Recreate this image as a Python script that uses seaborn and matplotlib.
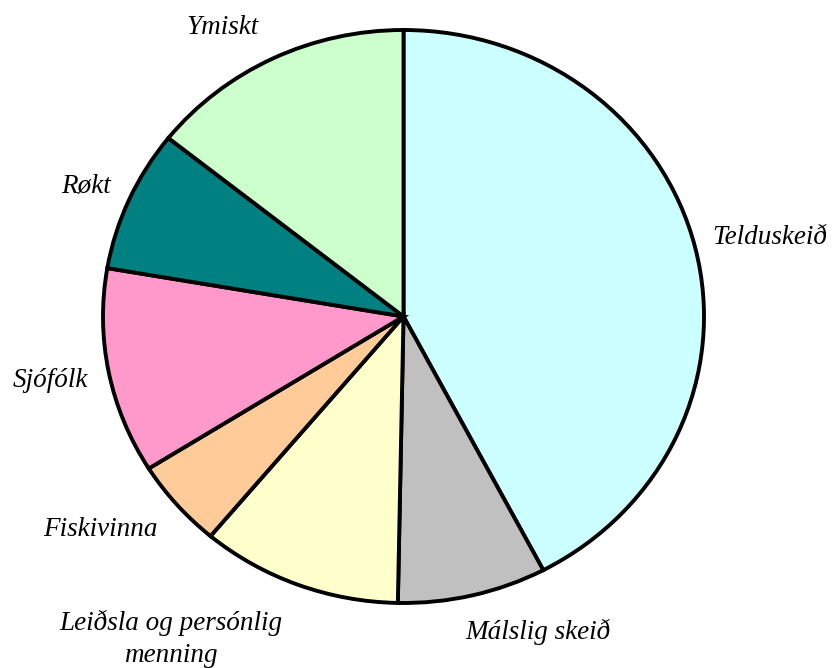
import matplotlib
matplotlib.use("Agg")
import matplotlib.pyplot as plt
import seaborn as sns

sns.set_theme(style="white")
plt.rcParams['font.family'] = ['Liberation Serif', 'DejaVu Serif']

categories = ["Telduskeið", "Málslig skeið", "Leiðsla og persónlig\nmenning",
              "Fiskivinna", "Sjófólk", "Røkt", "Ymiskt"]
values = [42.3, 8.0, 10.8, 5.0, 11.6, 8.0, 14.3]
colors = ["#CCFFFF", "#C0C0C0", "#FFFFCC", "#FFCC99", "#FF99CC", "#008080", "#CCFFCC"]

# label centres in axes-normalised pie coordinates
label_pos = [(1.218, 0.274), (0.449, -1.101), (-0.774, -1.125), (-1.008, -0.745),
             (-1.175, -0.225), (-1.058, 0.455), (-0.602, 1.010)]

W, H = 836, 668
fig = plt.figure(figsize=(W / 100, H / 100), dpi=100)
fig.patch.set_facecolor("white")
left, right, top, bottom = 103, 704, 30, 603
ax = fig.add_axes([left / W, (H - bottom) / H, (right - left) / W, (bottom - top) / H])

wedges, texts = ax.pie(values, labels=categories, colors=colors, startangle=90,
                       counterclock=False,
                       wedgeprops=dict(edgecolor="black", linewidth=2.8),
                       textprops=dict(fontsize=19.5, style="italic", color="black"))
for t, (x, y) in zip(texts, label_pos):
    t.set_position((x, y))
    t.set_ha("center")
    t.set_va("center")
    t.set_linespacing(1.4)

ax.set_aspect("auto")
ax.set_xlim(-1, 1)
ax.set_ylim(-1, 1)
ax.axis("off")

fig.savefig("out.png", dpi=100, facecolor="white")
